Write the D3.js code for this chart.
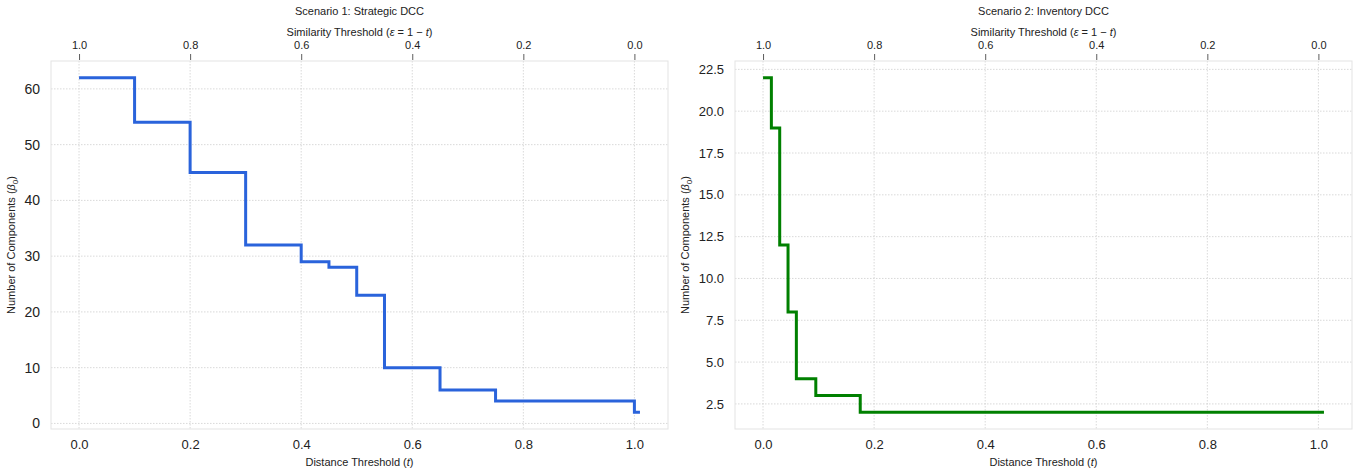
<!DOCTYPE html>
<html lang="en">
<head>
  <meta charset="UTF-8">
  <title>DCC components vs threshold</title>
  <script src="https://d3js.org/d3.v7.min.js"></script>
  <style>
    body {
      margin: 0;
      background: #fff;
      font-family: "Liberation Sans", Arial, sans-serif;
    }
    .grid line {
      stroke: #cfcfcf;
      stroke-width: 0.8px;
      stroke-dasharray: 1.5 1.5;
    }
    .frame {
      fill: none;
      stroke: #e3e3e3;
      stroke-width: 1px;
    }
    .axis path { display: none; }
    .axis text { fill: #222; }
    .lbl { font-size: 11px; fill: #222; }
  </style>
</head>
<body>
  <svg width="1356" height="472"></svg>

  <script>
    // Scenario 1: Strategic DCC (step-post)
    const s1T = [0, 0.1, 0.2, 0.3, 0.4, 0.45, 0.5, 0.55, 0.65, 0.75, 1.0, 1.01];
    const s1Beta = [62, 54, 45, 32, 29, 28, 23, 10, 6, 4, 2, 2];

    // Scenario 2: Inventory DCC
    const s2T = [0, 0.015, 0.03, 0.045, 0.06, 0.095, 0.175, 1.01];
    const s2Beta = [22, 19, 12, 8, 4, 3, 2, 2];

    const xTicks = [0, 0.2, 0.4, 0.6, 0.8, 1.0];
    const s1YTicks = [0, 10, 20, 30, 40, 50, 60];
    const s2YTicks = [2.5, 5, 7.5, 10, 12.5, 15, 17.5, 20, 22.5];

    const svg = d3.select("svg");

    const panels = [
      {
        title: "Scenario 1: Strategic DCC",
        t: s1T, beta: s1Beta,
        yDomain: [-1, 65], yTicks: s1YTicks, yFmt: d3.format("d"), yFont: 14,
        color: "#2a63db",
        left: 51, right: 668, ylabX: 15
      },
      {
        title: "Scenario 2: Inventory DCC",
        t: s2T, beta: s2Beta,
        yDomain: [1, 23], yTicks: s2YTicks, yFmt: d3.format(".1f"), yFont: 13,
        color: "#008000",
        left: 735, right: 1352, ylabX: 689
      }
    ];

    const plotTop = 61, plotBottom = 429;

    panels.forEach(p => {
      const x = d3.scaleLinear().domain([-0.0505, 1.0605]).range([p.left, p.right]);
      const y = d3.scaleLinear().domain(p.yDomain).range([plotBottom, plotTop]);
      const g = svg.append("g");

      // grid
      g.append("g").attr("class", "grid")
        .selectAll("line").data(xTicks).join("line")
        .attr("x1", d => x(d)).attr("x2", d => x(d))
        .attr("y1", plotTop).attr("y2", plotBottom);
      g.append("g").attr("class", "grid")
        .selectAll("line").data(p.yTicks).join("line")
        .attr("x1", p.left).attr("x2", p.right)
        .attr("y1", d => y(d)).attr("y2", d => y(d));

      g.append("rect").attr("class", "frame")
        .attr("x", p.left).attr("y", plotTop)
        .attr("width", p.right - p.left).attr("height", plotBottom - plotTop);

      // bottom axis
      g.append("g").attr("class", "axis")
        .attr("transform", `translate(0,${plotBottom})`)
        .call(d3.axisBottom(x).tickValues(xTicks).tickFormat(d3.format(".1f")).tickSize(0).tickPadding(11))
        .selectAll("text").style("font-size", "13px");

      // left axis
      g.append("g").attr("class", "axis")
        .attr("transform", `translate(${p.left},0)`)
        .call(d3.axisLeft(y).tickValues(p.yTicks).tickFormat(p.yFmt).tickSize(0).tickPadding(11))
        .selectAll("text").style("font-size", p.yFont + "px");

      // top secondary axis: similarity = 1 - t
      const topAx = g.append("g").attr("class", "axis")
        .attr("transform", `translate(0,${plotTop - 1})`)
        .call(d3.axisTop(x).tickValues(xTicks).tickFormat(d => d3.format(".1f")(1 - d)).tickSize(6).tickPadding(5));
      topAx.selectAll("line").attr("stroke", "#333").attr("stroke-width", 0.8);
      topAx.selectAll("text").style("font-size", "11px");

      // step line
      const pts = p.t.map((t, i) => [t, p.beta[i]]);
      g.append("path")
        .datum(pts)
        .attr("fill", "none")
        .attr("stroke", p.color)
        .attr("stroke-width", 3)
        .attr("d", d3.line().x(d => x(d[0])).y(d => y(d[1])).curve(d3.curveStepAfter));

      const cx = (p.left + p.right) / 2;

      g.append("text").attr("class", "lbl")
        .attr("x", cx).attr("y", 15).attr("text-anchor", "middle")
        .text(p.title);

      const sim = g.append("text").attr("class", "lbl")
        .attr("x", cx).attr("y", 36).attr("text-anchor", "middle");
      sim.append("tspan").text("Similarity Threshold (");
      sim.append("tspan").attr("font-style", "italic").text("ε");
      sim.append("tspan").text(" = 1 − ");
      sim.append("tspan").attr("font-style", "italic").text("t");
      sim.append("tspan").text(")");

      const xl = g.append("text").attr("class", "lbl")
        .attr("x", cx).attr("y", 466).attr("text-anchor", "middle");
      xl.append("tspan").text("Distance Threshold (");
      xl.append("tspan").attr("font-style", "italic").text("t");
      xl.append("tspan").text(")");

      const cy = (plotTop + plotBottom) / 2;
      const yl = g.append("text").attr("class", "lbl")
        .attr("transform", `translate(${p.ylabX},${cy}) rotate(-90)`)
        .attr("text-anchor", "middle");
      yl.append("tspan").text("Number of Components (");
      yl.append("tspan").attr("font-style", "italic").text("β");
      yl.append("tspan").attr("font-size", "8px").attr("dy", 3).text("0");
      yl.append("tspan").attr("dy", -3).text(")");
    });
  </script>
</body>
</html>
